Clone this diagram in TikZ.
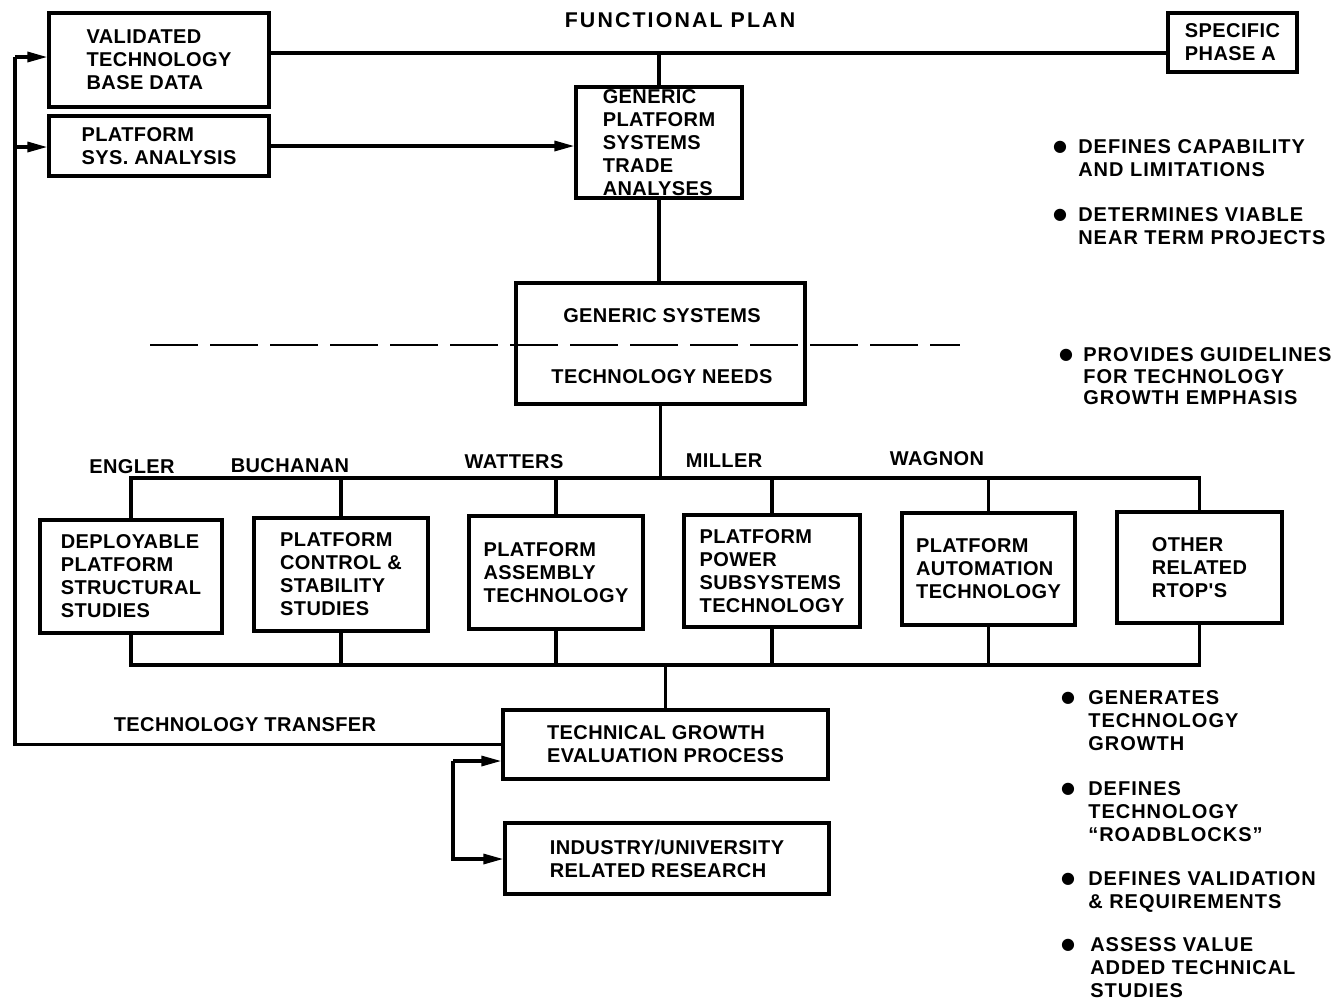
\documentclass[tikz,border=0pt]{standalone}
\usepackage{fontspec}
\setmainfont{Liberation Sans}
\newfontfamily\boxfont{Liberation Sans}[LetterSpace=2]
\newfontfamily\notefont{Liberation Sans}[LetterSpace=5]
\newfontfamily\titlefont{Liberation Sans}[LetterSpace=10]
\newfontfamily\dotfont{DejaVu Sans}
\usetikzlibrary{arrows.meta}
\begin{document}
\begin{tikzpicture}[x=0.75pt,y=-0.75pt,
  every node/.style={font=\boxfont\fontsize{15}{17.25}\selectfont\bfseries, inner sep=0pt},
  box/.style={draw, line width=2.4pt, align=left, inner xsep=2pt, inner ysep=1pt},
  sz/.style 2 args={minimum width=#1*0.75pt, minimum height=#2*0.75pt},
  ln/.style={line width=2.4pt},
  arr/.style={ln, -{Triangle[length=15pt,width=7.5pt]}},
  note/.style={align=left, anchor=north west, font=\notefont\fontsize{15}{17.25}\selectfont\bfseries},
  dot/.style={font=\dotfont\fontsize{12}{14}\selectfont, anchor=center},
  title/.style={font=\titlefont\fontsize{16}{18}\selectfont\bfseries},
]
\fill[white] (0,0) rectangle (1338,1001);
\useasboundingbox (0,0) rectangle (1338,1001);

% top boxes
\node[box,sz={220}{94}] (vtbd) at (159,60) {VALIDATED\\TECHNOLOGY\\BASE DATA};
\node[box,sz={220}{60}] (psa) at (159,146) {PLATFORM\\SYS. ANALYSIS};
\node[box,sz={129}{59}] (spa) at (1232.5,42.5) {SPECIFIC\\PHASE A};
\node[box,sz={166}{111}] (gpsta) at (659,142.5) {GENERIC\\PLATFORM\\SYSTEMS\\TRADE\\ANALYSES};
\node[title] (fpl) at (680,20) {FUNCTIONAL PLAN};

% generic systems
\node[box,sz={289}{121}] (gs) at (660.5,343.5) {};
\node (gst) at (662,316) {GENERIC SYSTEMS};
\node (gsb) at (662,377) {TECHNOLOGY NEEDS};
\draw[line width=2.2pt, dash pattern=on 36pt off 9pt] (150,345) -- (960,345);

% RTOP boxes
\node[box,sz={182}{113}] (b1) at (131,576.5) {DEPLOYABLE\\PLATFORM\\STRUCTURAL\\STUDIES};
\node[box,sz={174}{113}] (b2) at (341,574.5) {PLATFORM\\CONTROL \&\\STABILITY\\STUDIES};
\node[box,sz={174}{113}] (b3) at (556,572.5) {PLATFORM\\ASSEMBLY\\TECHNOLOGY};
\node[box,sz={176}{112}] (b4) at (772,571) {PLATFORM\\POWER\\SUBSYSTEMS\\TECHNOLOGY};
\node[box,sz={173}{112}] (b5) at (988.5,569) {PLATFORM\\AUTOMATION\\TECHNOLOGY};
\node[box,sz={165}{111}] (b6) at (1199.5,567.5) {OTHER\\RELATED\\RTOP'S};

\node (l1) at (132,467) {ENGLER};
\node (l2) at (290,466) {BUCHANAN};
\node (l3) at (514,462) {WATTERS};
\node (l4) at (724,461) {MILLER};
\node (l5) at (937,459) {WAGNON};

% bottom boxes
\node[box,sz={325}{69}] (tgep) at (665.5,744.5) {TECHNICAL GROWTH\\EVALUATION PROCESS};
\node[box,sz={324}{71}] (iur) at (667,858.5) {INDUSTRY/UNIVERSITY\\RELATED RESEARCH};
\node (tt) at (245,725) {TECHNOLOGY TRANSFER};

% coordinates
\coordinate (fp) at (657,53);
\coordinate (bt) at (0,478);
\coordinate (bb) at (0,665);
\coordinate (lt) at (15,57);
\coordinate (lp) at (15,147);
\coordinate (da1) at (453,761);
\coordinate (da2) at (453,859);

% connectors
\draw[ln] (vtbd.east |- fp) -- (spa.west |- fp);
\draw[ln] (gpsta.north |- fp) -- (gpsta.north);
\draw[arr] (psa.east) -- (gpsta.west |- psa.east);
\draw[ln] (gpsta.south) -- (gpsta.south |- gs.north);
\draw[ln] (gs.south) -- (gs.south |- bt);
\draw[ln] (b1.north) -- (b1.north |- bt) -- (b6.north |- bt) -- (b6.north);
\foreach \b in {b2,b3,b4,b5} \draw[ln] (\b.north) -- (\b.north |- bt);
\draw[ln] (b1.south) -- (b1.south |- bb) -- (b6.south |- bb) -- (b6.south);
\foreach \b in {b2,b3,b4,b5} \draw[ln] (\b.south) -- (\b.south |- bb);
\draw[ln] (tgep.north |- bb) -- (tgep.north);
\draw[ln] (tgep.west) -| (lt);
\draw[arr] (lt) -- (vtbd.west |- lt);
\draw[arr] (lp) -- (psa.west |- lp);
\draw[arr] (da1) -- (tgep.west |- da1);
\draw[arr] (da1) -- (da2) -- (iur.west |- da2);

% notes
\node[dot] (d1) at (1060,147) {●};
\node[note] (n1) at (1078,139.5) {DEFINES CAPABILITY\\AND LIMITATIONS};
\node[dot] (d2) at (1060,215) {●};
\node[note] (n2) at (1078,207.5) {DETERMINES VIABLE\\NEAR TERM PROJECTS};
\node[dot] (d3) at (1066,355) {●};
\node[note,font=\notefont\fontsize{15}{16.2}\selectfont\bfseries] (n3) at (1083,347.5) {PROVIDES GUIDELINES\\FOR TECHNOLOGY\\GROWTH EMPHASIS};
\node[dot] (d4) at (1068,698) {●};
\node[note] (n4) at (1088,690.5) {GENERATES\\TECHNOLOGY\\GROWTH};
\node[dot] (d5) at (1068,789) {●};
\node[note] (n5) at (1088,781.5) {DEFINES\\TECHNOLOGY\\“ROADBLOCKS”};
\node[dot] (d6) at (1068,879) {●};
\node[note] (n6) at (1088,871.5) {DEFINES VALIDATION\\\& REQUIREMENTS};
\node[dot] (d7) at (1068,945) {●};
\node[note] (n7) at (1090,937.5) {ASSESS VALUE\\ADDED TECHNICAL\\STUDIES};
\end{tikzpicture}
\end{document}
